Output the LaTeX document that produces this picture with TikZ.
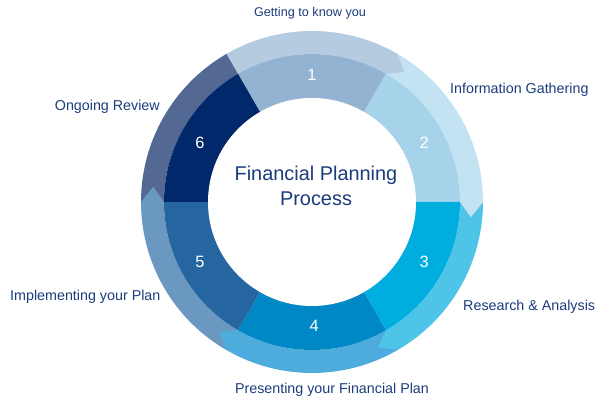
\documentclass[tikz,border=0pt]{standalone}
\usepackage{fontspec}
\setmainfont{Liberation Sans}
\usepackage{tikz}

\definecolor{segone}{HTML}{94B2D2}
\definecolor{segtwo}{HTML}{A6D3EA}
\definecolor{segthree}{HTML}{00ADDF}
\definecolor{segfour}{HTML}{0088C6}
\definecolor{segfive}{HTML}{2565A0}
\definecolor{segsix}{HTML}{00286A}
\definecolor{arrone}{HTML}{B4CBE0}
\definecolor{arrtwo}{HTML}{C3E2F2}
\definecolor{arrthree}{HTML}{4FC4E9}
\definecolor{arrfour}{HTML}{4EACDC}
\definecolor{arrfive}{HTML}{6B98C1}
\definecolor{arrsix}{HTML}{536893}
\definecolor{labelblue}{HTML}{1B3C7C}

\tikzset{
	steplabel/.style={text=labelblue, font=\fontsize{12.2}{14}\selectfont, inner sep=0pt},
	stepnum/.style={text=white, font=\fontsize{14}{16}\selectfont, inner sep=0pt},
}

\begin{document}
\begin{tikzpicture}[x=0.03cm, y=0.03cm]
				\useasboundingbox (-312,-203) rectangle (298,202);
				
				% outer arrows, drawn backwards so each head lies on the next band
				\fill[arrsix] (180:148) -- (180:171) arc[start angle=180, end angle=120, radius=171] -- (114.5:159.5) -- (120:148) arc[start angle=120, end angle=180, radius=148] -- cycle;
				\fill[arrfive] (240:148) -- (240:171) arc[start angle=240, end angle=180, radius=171] -- (174.5:159.5) -- (180:148) arc[start angle=180, end angle=240, radius=148] -- cycle;
				\fill[arrfour] (300:148) -- (300:171) arc[start angle=300, end angle=240, radius=171] -- (234.5:159.5) -- (240:148) arc[start angle=240, end angle=300, radius=148] -- cycle;
				\fill[arrthree] (0:148) -- (0:171) arc[start angle=0, end angle=-60, radius=171] -- (-65.5:159.5) -- (-60:148) arc[start angle=-60, end angle=0, radius=148] -- cycle;
				\fill[arrtwo] (60:148) -- (60:171) arc[start angle=60, end angle=0, radius=171] -- (-5.5:159.5) -- (0:148) arc[start angle=0, end angle=60, radius=148] -- cycle;
				\fill[arrone] (120:148) -- (120:171) arc[start angle=120, end angle=60, radius=171] -- (54.5:159.5) -- (60:148) arc[start angle=60, end angle=120, radius=148] -- cycle;
				
				% inner ring
				\fill[segone] (0,0) -- (60:148) arc[start angle=60, end angle=120, radius=148] -- cycle;
				\fill[segtwo] (0,0) -- (0:148) arc[start angle=0, end angle=60, radius=148] -- cycle;
				\fill[segthree] (0,0) -- (-60:148) arc[start angle=-60, end angle=0, radius=148] -- cycle;
				\fill[segfour] (0,0) -- (-120:148) arc[start angle=-120, end angle=-60, radius=148] -- cycle;
				\fill[segfive] (0,0) -- (180:148) arc[start angle=180, end angle=240, radius=148] -- cycle;
				\fill[segsix] (0,0) -- (120:148) arc[start angle=120, end angle=180, radius=148] -- cycle;
				\fill[white] (0,0) circle[radius=104];
				
				\node[stepnum] (num1) at (90:127) {1};
				\node[stepnum] (num2) at (28:127) {2};
				\node[stepnum] (num3) at (-28:127) {3};
				\node[stepnum] (num4) at (-89:124) {4};
				\node[stepnum] (num5) at (208:127) {5};
				\node[stepnum] (num6) at (152:127) {6};
				
				\node[text=labelblue, font=\fontsize{17}{20}\selectfont, align=center, inner sep=0pt] (title) at (4,16) {Financial Planning\\[2pt]Process};
				
				\node[steplabel, font=\fontsize{10.8}{13}\selectfont] (know) at (-2,189) {Getting to know you};
				\node[steplabel, anchor=west] (gather) at (138,112) {Information Gathering};
				\node[steplabel, anchor=west] (research) at (151,-105) {Research \& Analysis};
				\node[steplabel] (present) at (20,-188) {Presenting your Financial Plan};
				\node[steplabel, anchor=west] (implement) at (-302,-95) {Implementing your Plan};
				\node[steplabel, anchor=east] (review) at (-152,95) {Ongoing Review};
			\end{tikzpicture}
\end{document}
